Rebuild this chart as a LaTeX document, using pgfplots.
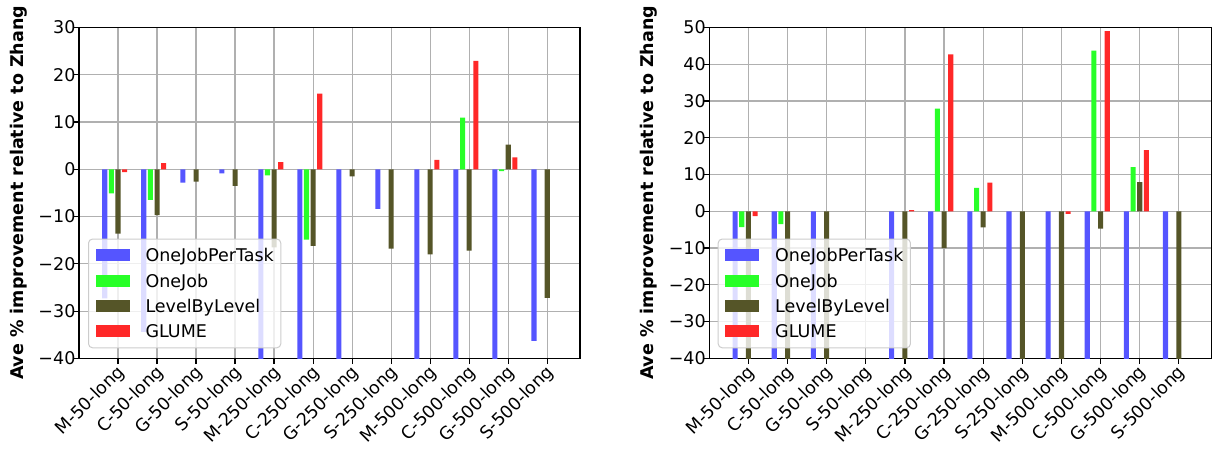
\documentclass[border=0pt]{standalone}
\usepackage{fontspec}
\setmainfont{DejaVu Sans}
\usepackage{pgfplots}
\pgfplotsset{compat=1.18}
\definecolor{cBlue}{RGB}{85,85,255}
\definecolor{cGreen}{RGB}{40,255,40}
\definecolor{cOlive}{RGB}{85,85,40}
\definecolor{cRed}{RGB}{255,40,40}
\definecolor{gridgray}{RGB}{176,176,176}
\definecolor{leggray}{RGB}{204,204,204}
\newcommand{\fs}{\fontsize{8.75bp}{10.5bp}\selectfont}
\pgfplotsset{
  barleg/.style={legend image code/.code={\fill[##1, fill opacity=1, draw=none, sharp corners] (0bp,-3bp) rectangle (17bp,3bp);}},
  myaxis/.style={
    scale only axis, height=165.5bp,
    xmin=-1.0, xmax=11.84, ymin=-40,
    xtick={0,...,11},
    xticklabels={M-50-long,C-50-long,G-50-long,S-50-long,M-250-long,C-250-long,G-250-long,S-250-long,M-500-long,C-500-long,G-500-long,S-500-long},
    grid=major,
    major grid style={line width=0.6bp, gridgray},
    axis line style={line width=0.6bp, black},
    tick align=outside, major tick length=2.8bp,
    tick style={line width=0.6bp, black},
    xtick pos=lower, ytick pos=left,
    font=\fs,
    ticklabel style={font=\fs},
    xticklabel style={xshift=-1.2bp, yshift=0.4bp, rotate=45, anchor=north east, inner sep=0pt},
    yticklabel style={anchor=east, inner sep=0pt, xshift=1.2bp},
    ylabel={Ave \% improvement relative to Zhang},
    ylabel style={font=\bfseries\fs, at={(axis description cs:-0.12,0.5)}, anchor=center},
    legend style={fill=white, fill opacity=0.8, draw opacity=1, text opacity=1,
      draw=leggray, rounded corners=2bp, line width=0.5bp,
      inner xsep=3.5bp, inner ysep=3.2bp, row sep=2.63bp,
      nodes={inner sep=0pt, text height=8.2bp, text depth=1.82bp, font=\fs},
      /tikz/every odd column/.append style={column sep=8bp}},
    legend cell align=left,
  }
}
\begin{document}
\begin{tikzpicture}
\useasboundingbox (0,0) rectangle (608bp,224.5bp);
% left axis
\begin{axis}[myaxis, at={(39.5bp,45.3bp)}, anchor=south west, width=250.5bp,
  ymax=30, ytick={-40,-30,-20,-10,0,10,20,30},
  yticklabels={−40,−30,−20,−10,0,10,20,30},
  legend style={at={(0.018,0.0305)}, anchor=south west}]
\addplot[ybar, bar width=0.13, bar shift=-0.34, fill=cBlue, draw=none, barleg] coordinates {
 (0,-27.3) (1,-34.4) (2,-2.8) (3,-0.85) (4,-45) (5,-45) (6,-45) (7,-8.4) (8,-45) (9,-45) (10,-45) (11,-36.3)};
\addplot[ybar, bar width=0.13, bar shift=-0.17, fill=cGreen, draw=none, barleg] coordinates {
 (0,-5.1) (1,-6.5) (4,-1.3) (5,-14.9) (9,10.9) (10,-0.4)};
\addplot[ybar, bar width=0.13, bar shift=0, fill=cOlive, draw=none, barleg] coordinates {
 (0,-13.6) (1,-9.7) (2,-2.6) (3,-3.5) (4,-16.5) (5,-16.2) (6,-1.5) (7,-16.8) (8,-18.0) (9,-17.2) (10,5.2) (11,-27.2)};
\addplot[ybar, bar width=0.13, bar shift=0.17, fill=cRed, draw=none, barleg] coordinates {
 (0,-0.6) (1,1.3) (4,1.5) (5,16.0) (8,2.0) (9,22.9) (10,2.5)};
\legend{OneJobPerTask,OneJob,LevelByLevel,GLUME}
\end{axis}
% right axis
\begin{axis}[myaxis, at={(354.65bp,45.3bp)}, anchor=south west, width=251.2bp,
  ymax=50, ytick={-40,-30,-20,-10,0,10,20,30,40,50},
  yticklabels={−40,−30,−20,−10,0,10,20,30,40,50},
  legend style={at={(0.0167,0.0305)}, anchor=south west}]
\addplot[ybar, bar width=0.13, bar shift=-0.34, fill=cBlue, draw=none, barleg] coordinates {
 (0,-45) (1,-45) (2,-45) (4,-45) (5,-45) (6,-45) (7,-45) (8,-45) (9,-45) (10,-45) (11,-45)};
\addplot[ybar, bar width=0.13, bar shift=-0.17, fill=cGreen, draw=none, barleg] coordinates {
 (0,-4.3) (1,-3.5) (5,27.9) (6,6.4) (9,43.7) (10,12.0)};
\addplot[ybar, bar width=0.13, bar shift=0, fill=cOlive, draw=none, barleg] coordinates {
 (0,-45) (1,-45) (2,-45) (4,-45) (5,-10.0) (6,-4.4) (7,-45) (8,-45) (9,-4.7) (10,7.9) (11,-45)};
\addplot[ybar, bar width=0.13, bar shift=0.17, fill=cRed, draw=none, barleg] coordinates {
 (0,-1.3) (4,0.3) (5,42.7) (6,7.8) (8,-0.7) (9,49.0) (10,16.6)};
\legend{OneJobPerTask,OneJob,LevelByLevel,GLUME}
\end{axis}
\end{tikzpicture}
\end{document}
